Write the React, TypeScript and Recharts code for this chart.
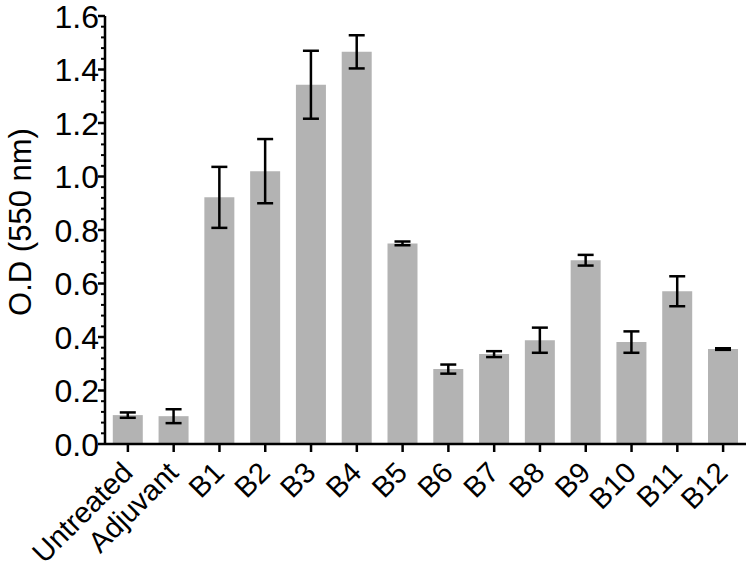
import { BarChart, Bar, XAxis, YAxis, ErrorBar } from 'recharts';

const CATEGORIES = ['Untreated', 'Adjuvant', 'B1', 'B2', 'B3', 'B4', 'B5', 'B6', 'B7', 'B8', 'B9', 'B10', 'B11', 'B12'];
const OD_MEAN = [0.108, 0.104, 0.922, 1.02, 1.343, 1.466, 0.75, 0.28, 0.336, 0.388, 0.687, 0.381, 0.571, 0.355];
const OD_ERR = [0.01, 0.026, 0.114, 0.12, 0.127, 0.062, 0.007, 0.017, 0.011, 0.047, 0.02, 0.04, 0.056, 0.003];

const MAJOR_TICKS = [0, 0.2, 0.4, 0.6, 0.8, 1.0, 1.2, 1.4, 1.6];
const MINOR_STEP = 0.04;

// minor ticks sit between the labelled ones, 4 per interval
const ALL_TICKS: number[] = [];
for (let i = 0; i * MINOR_STEP <= 1.6 + 1e-9; i++) {
    ALL_TICKS.push(Math.round(i * MINOR_STEP * 100) / 100);
}

const data = CATEGORIES.map((name, i) => ({ name, od: OD_MEAN[i], err: OD_ERR[i] }));

const FONT = 'Liberation Sans, Arial, sans-serif';

function YTick(props: any) {
    const { x, y, payload } = props;
    const v = payload.value as number;
    const major = MAJOR_TICKS.some((m) => Math.abs(m - v) < 1e-6);
    if (!major) {
        return <line x1={x - 4} x2={x} y1={y} y2={y} stroke="#000" strokeWidth={2} />;
    }
    return (
        <g>
            <line x1={x - 7} x2={x} y1={y} y2={y} stroke="#000" strokeWidth={2.5} />
            <text x={x - 6} y={y} dy="0.36em" textAnchor="end" fontSize={32} fontFamily={FONT} fill="#000">
                {v.toFixed(1)}
            </text>
        </g>
    );
}

function XTick(props: any) {
    const { x, y, payload } = props;
    const tx = x - 1;
    const ty = y + 23;
    return (
        <g>
            <line x1={x} x2={x} y1={y} y2={y + 8} stroke="#000" strokeWidth={2.5} />
            <text
                x={tx}
                y={ty}
                dy="0.36em"
                textAnchor="end"
                fontSize={29}
                fontFamily={FONT}
                fill="#000"
                transform={`rotate(-45 ${tx} ${ty})`}
            >
                {payload.value}
            </text>
        </g>
    );
}

export default function App() {
    return (
        <div style={{ position: 'absolute', left: 0, top: 0, width: 752, height: 568, background: '#fff' }}>
            <BarChart
                width={752}
                height={568}
                data={data}
                margin={{ top: 16, right: 6, left: 0, bottom: 0 }}
                barCategoryGap="17%"
            >
                <XAxis
                    dataKey="name"
                    interval={0}
                    tickSize={0}
                    tickMargin={0}
                    height={124}
                    tick={<XTick />}
                    axisLine={{ stroke: '#000', strokeWidth: 2.5 }}
                    tickLine={false}
                />
                <YAxis
                    type="number"
                    domain={[0, 1.6]}
                    ticks={ALL_TICKS}
                    interval={0}
                    width={105}
                    tickSize={0}
                    tickMargin={0}
                    tick={<YTick />}
                    tickLine={false}
                    axisLine={{ stroke: '#000', strokeWidth: 2.5 }}
                    allowDataOverflow
                    label={{
                        content: () => (
                            <text
                                x={20}
                                y={222}
                                dy="0.36em"
                                textAnchor="middle"
                                fontSize={31}
                                fontFamily={FONT}
                                fill="#000"
                                transform="rotate(-90 20 222)"
                            >
                                O.D (550 nm)
                            </text>
                        ),
                    }}
                />
                <Bar dataKey="od" fill="#b3b3b3" isAnimationActive={false}>
                    <ErrorBar dataKey="err" width={8} stroke="#000" strokeWidth={2.5} isAnimationActive={false} />
                </Bar>
            </BarChart>
        </div>
    );
}
